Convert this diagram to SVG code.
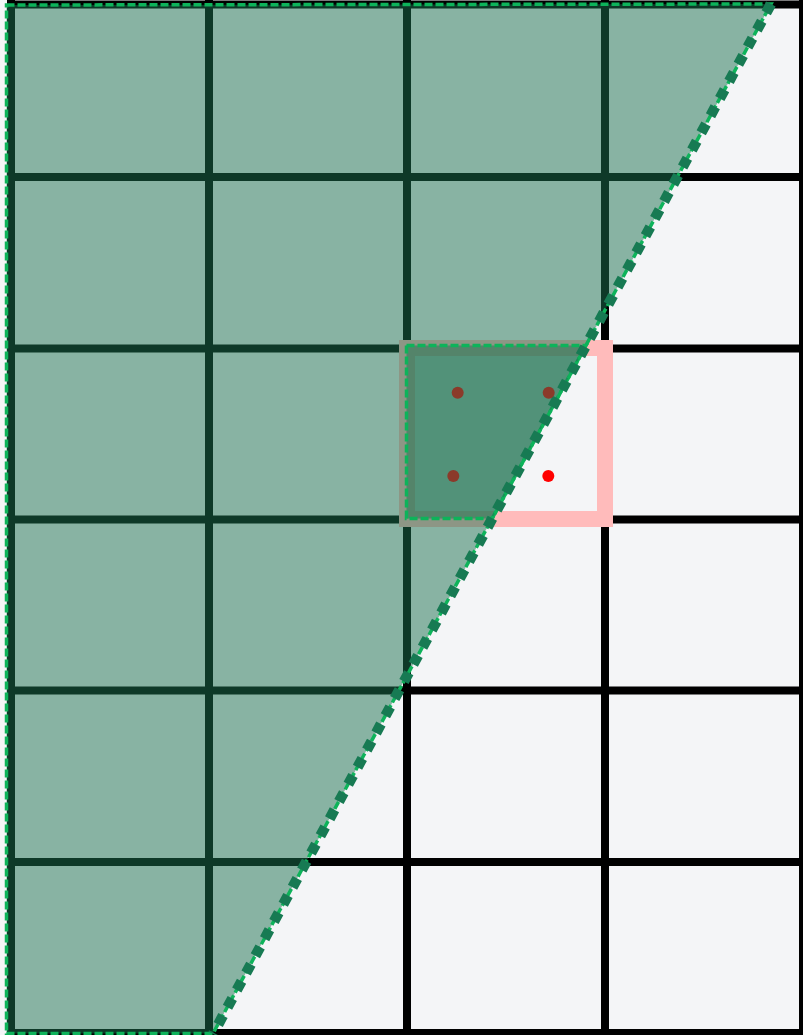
<svg xmlns="http://www.w3.org/2000/svg" width="803" height="1035" viewBox="0 0 803 1035">
<style>
.grid line{stroke:#000;stroke-width:8}
.area{fill:#1c714f;fill-opacity:0.5;stroke:#0db35a;stroke-width:3.5;stroke-dasharray:8 3}
.edge{stroke:#177a53;stroke-width:10.5;stroke-dasharray:10 9.5;fill:none}
.pt{fill:#8b3a2a}
</style>
<rect x="0" y="0" width="803" height="1035" fill="#f4f5f7"/>
<g id="grid" class="grid">
<line x1="11" y1="0" x2="11" y2="1035"/>
<line x1="209" y1="0" x2="209" y2="1035"/>
<line x1="407" y1="0" x2="407" y2="1035"/>
<line x1="605" y1="0" x2="605" y2="1035"/>
<line x1="803" y1="0" x2="803" y2="1035"/>
<line x1="7" y1="4.5" x2="803" y2="4.5"/>
<line x1="7" y1="177" x2="803" y2="177"/>
<line x1="7" y1="348.5" x2="803" y2="348.5"/>
<line x1="7" y1="519.5" x2="803" y2="519.5"/>
<line x1="7" y1="690.5" x2="803" y2="690.5"/>
<line x1="7" y1="862" x2="803" y2="862"/>
<line x1="7" y1="1033" x2="803" y2="1033"/>
</g>
<g id="cell">
<rect x="407" y="348" width="198" height="171" fill="none" stroke="#ffbbbb" stroke-width="16"/>
</g>
<g id="triangle">
<polygon class="area" points="6.5,5 771,4 213,1033.5 6.5,1033.5"/>
</g>
<g id="overlap">
<polygon class="area" points="406.5,345.5 586,345.5 492.3,518.5 406.5,518.5"/>
</g>
<g id="connectors">
<line class="edge" x1="771" y1="4" x2="213" y2="1034"/>
</g>
<g id="points">
<circle class="pt" cx="457.7" cy="392.7" r="6"/>
<circle class="pt" cx="548.7" cy="392.7" r="6"/>
<circle class="pt" cx="453.3" cy="476" r="6"/>
<circle cx="548.3" cy="476" r="6" fill="#ff0000"/>
</g>
</svg>
